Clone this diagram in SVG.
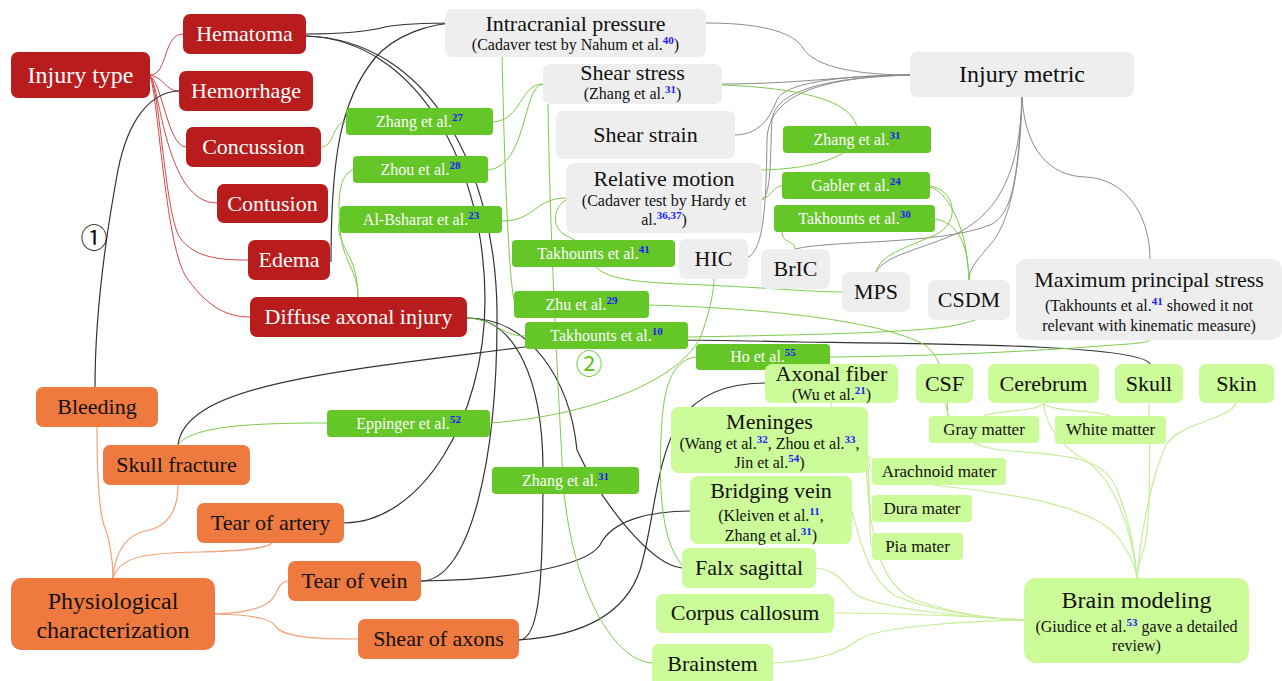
<svg xmlns="http://www.w3.org/2000/svg" width="1282" height="681" viewBox="0 0 1282 681">
<style>
text{font-family:"Liberation Serif","Times New Roman",serif;text-anchor:middle}
.red rect{fill:#B91C1C}
.red text{fill:#fff;font-size:22px}
.org rect{fill:#EF7A3F}
.org text{fill:#111;font-size:22px}
.gry rect{fill:#EEEEEE}
.gry text{fill:#111}
.cit rect{fill:#65C627}
.cit text{fill:#fff;font-size:16px}
.lg rect{fill:#CCFB99}
.lg text{fill:#111}
.big{font-size:22px}
.sub{font-size:16px}
.sm{font-size:17px}
.sup{fill:#1a1aff;font-weight:bold;font-size:11px}
#connectors path{fill:none}
.cr{stroke:#CD4848;stroke-width:1}
.ck{stroke:#333;stroke-width:1.2}
.cg{stroke:#8c8c8c;stroke-width:1}
.cn{stroke:#7DCC4A;stroke-width:1}
.cl{stroke:#C6EE98;stroke-width:1.2}
.co{stroke:#F3A27A;stroke-width:1.2}
.num{font-family:"Noto Sans CJK SC","DejaVu Sans",sans-serif;font-size:27px}
</style>
<g id="connectors">
<path class="cr" d="M150,75 C168,75 163,34 183,34"/>
<path class="cr" d="M150,75 C165,78 165,91 179,91"/>
<path class="cr" d="M150,76 C162,82 168,147 186,147"/>
<path class="cr" d="M150,76 C160,84 165,203 217,203"/>
<path class="cr" d="M150,76 C160,90 165,215 180,238 C195,258 220,260 248,260"/>
<path class="cr" d="M150,76 C158,95 165,240 185,275 C205,305 225,317 250,317"/>
<path class="co" d="M113,578 C113,555 108,535 104,525 C99,510 97,470 97,427"/>
<path class="co" d="M113,578 C115,548 130,534 145,531 C168,527 178,510 178,485"/>
<path class="co" d="M113,578 C120,555 150,553 200,552 C240,551 266,549 272,543"/>
<path class="co" d="M215,614 C255,613 270,605 275,595 C280,584 283,581 288,581"/>
<path class="co" d="M215,614 C260,615 272,620 276,627 C285,638 320,639 358,639"/>
<path class="ck" d="M179,91 C150,92 128,120 118,170 C105,240 95,320 95,387"/>
<path class="ck" d="M306,34 C340,34 370,31 385,27 C400,24 430,23 458,23"/>
<path class="ck" d="M331,262 C331,160 340,100 375,58 C395,35 430,23 458,23"/>
<path class="ck" d="M306,36 C420,40 485,170 485,300 C485,420 420,523 344,523"/>
<path class="ck" d="M306,36 C430,40 495,170 497,310 C498,460 470,581 421,581"/>
<path class="ck" d="M467,318 C515,318 543,380 543,470 C543,580 540,640 519,640"/>
<path class="ck" d="M467,318 C530,318 570,380 577,450 C600,500 650,565 682,568"/>
<path class="ck" d="M421,581 C500,580 585,568 600,545 C612,520 650,511 690,511"/>
<path class="ck" d="M519,640 C580,636 625,615 640,570 C655,520 655,460 680,420 C700,392 730,383 765,383"/>
<path class="ck" d="M178,445 C185,385 330,372 525,347 C620,337 700,340 800,342 C950,344 1140,345 1150,364"/>
<path class="cg" d="M706,23 C770,23 795,35 803,48 C815,68 860,75 912,75"/>
<path class="cg" d="M722,84 C800,84 850,75 912,75"/>
<path class="cg" d="M734,135 C765,135 772,110 778,98 C790,80 860,75 912,75"/>
<path class="cg" d="M747,258 C765,250 766,200 767,140 C768,95 820,77 912,75"/>
<path class="cg" d="M762,200 C772,195 770,150 772,120 C775,90 830,77 912,75"/>
<path class="cg" d="M1022,97 C1025,150 1050,176 1085,177 C1125,178 1150,215 1150,259"/>
<path class="cg" d="M1022,97 C1020,170 1000,210 960,232 C920,250 885,255 876,272"/>
<path class="cg" d="M1022,97 C1020,180 1008,225 990,245 C975,262 969,270 969,280"/>
<path class="cg" d="M1022,97 C1018,180 1012,215 990,225 C940,245 830,240 795,249"/>
<path class="cn" d="M321,147 C335,147 332,122 346,122"/>
<path class="cn" d="M493,122 C522,120 520,84 543,84"/>
<path class="cn" d="M488,170 C528,166 522,86 543,84"/>
<path class="cn" d="M353,170 C338,176 338,200 340,228 C342,262 358,270 358,297"/>
<path class="cn" d="M340,220 C335,232 345,248 350,258 C356,270 358,285 358,297"/>
<path class="cn" d="M502,221 C535,221 535,198 566,198"/>
<path class="cn" d="M566,200 C552,208 552,228 565,235 C580,242 590,250 593,262 C600,280 640,282 680,284 C760,287 810,292 842,292"/>
<path class="cn" d="M502,52 C504,150 508,270 514,300"/>
<path class="cn" d="M649,305 C760,308 880,320 925,345 C945,360 946,390 948,416"/>
<path class="cn" d="M688,337 C800,335 900,333 945,327 C960,325 968,322 975,320"/>
<path class="cn" d="M467,318 C498,320 500,336 525,336"/>
<path class="cn" d="M178,445 C192,426 250,423 327,423"/>
<path class="cn" d="M490,423 C600,415 690,375 703,330 C710,310 714,290 714,279"/>
<path class="cn" d="M722,85 C800,88 852,100 857,128 C862,160 800,170 757,170"/>
<path class="cn" d="M762,198 C772,198 772,186 782,186"/>
<path class="cn" d="M930,186 C955,190 962,222 935,235 C905,248 880,255 876,272"/>
<path class="cn" d="M930,187 C948,192 962,225 966,250 C968,265 969,272 969,280"/>
<path class="cn" d="M935,219 C955,222 964,240 967,258 C968,268 969,275 969,280"/>
<path class="cn" d="M782,232 C782,244 795,240 795,249"/>
<path class="cn" d="M830,357 C950,356 1050,350 1100,346 C1130,344 1148,343 1150,340"/>
<path class="cn" d="M696,357 C675,360 665,380 662,420 C658,480 660,540 682,565"/>
<path class="cn" d="M548,104 C550,250 560,420 563,480 C570,580 610,660 652,663"/>
<path class="cl" d="M1236,403 C1230,420 1180,422 1166,445 C1150,480 1140,540 1137,578"/>
<path class="cl" d="M1149,403 C1150,450 1150,520 1145,545 C1140,560 1137,570 1137,578"/>
<path class="cl" d="M1043,403 C1040,412 995,410 984,416"/>
<path class="cl" d="M1043,403 C1048,412 1100,410 1110,416"/>
<path class="cl" d="M1043,403 C1048,430 1060,445 1085,460 C1115,480 1132,530 1137,578"/>
<path class="cl" d="M945,403 C950,430 965,445 1000,450 C1060,455 1100,455 1115,485 C1130,520 1135,550 1137,578"/>
<path class="cl" d="M831,403 C840,450 900,480 940,486 C1030,495 1100,510 1120,540 C1130,555 1136,568 1137,578"/>
<path class="cl" d="M866,455 C871,458 868,471 872,471"/>
<path class="cl" d="M866,460 C872,470 866,508 872,508"/>
<path class="cl" d="M866,460 C872,480 868,547 872,547"/>
<path class="cl" d="M866,465 C870,540 880,585 915,600 C955,614 1000,620 1024,620"/>
<path class="cl" d="M852,511 C860,540 868,578 895,596 C935,612 990,619 1024,620"/>
<path class="cl" d="M816,568 C838,570 845,585 855,594 C880,610 980,618 1024,620"/>
<path class="cl" d="M834,613 C900,613 980,617 1024,620"/>
<path class="cl" d="M773,663 C830,660 848,648 858,640 C880,625 980,621 1024,620"/>
</g>
<g id="injury-type" class="red"><rect x="11" y="52" width="139" height="46" rx="7"/><text x="80.5" y="83" style="font-size:24px">Injury type</text></g>
<g id="hematoma" class="red"><rect x="183" y="14" width="123" height="40" rx="7"/><text x="244.5" y="41">Hematoma</text></g>
<g id="hemorrhage" class="red"><rect x="179" y="71" width="134" height="40" rx="7"/><text x="246" y="98">Hemorrhage</text></g>
<g id="concussion" class="red"><rect x="186" y="127" width="135" height="40" rx="7"/><text x="253.5" y="154">Concussion</text></g>
<g id="contusion" class="red"><rect x="217" y="184" width="111" height="39" rx="7"/><text x="272.5" y="211">Contusion</text></g>
<g id="edema" class="red"><rect x="248" y="240" width="82" height="40" rx="7"/><text x="289" y="267">Edema</text></g>
<g id="dai" class="red"><rect x="250" y="297" width="217" height="40" rx="7"/><text x="358.5" y="324">Diffuse axonal injury</text></g>
<g id="bleeding" class="org"><rect x="36" y="387" width="122" height="40" rx="7"/><text x="97" y="414">Bleeding</text></g>
<g id="skull-fracture" class="org"><rect x="103" y="445" width="147" height="40" rx="7"/><text x="176.5" y="472">Skull fracture</text></g>
<g id="tear-artery" class="org"><rect x="197" y="503" width="147" height="40" rx="7"/><text x="270.5" y="530">Tear of artery</text></g>
<g id="tear-vein" class="org"><rect x="288" y="561" width="133" height="40" rx="7"/><text x="354.5" y="588">Tear of vein</text></g>
<g id="shear-axons" class="org"><rect x="358" y="619" width="161" height="40" rx="7"/><text x="438.5" y="646">Shear of axons</text></g>
<g id="physio" class="org"><rect x="11" y="578" width="204" height="72" rx="10"/><text x="113" y="609" style="font-size:24px">Physiological</text><text x="113" y="638" style="font-size:24px">characterization</text></g>
<g id="icp" class="gry"><rect x="445" y="9" width="261" height="48" rx="7"/><text x="575.5" y="31" class="big">Intracranial pressure</text><text x="575.5" y="50" class="sub">(Cadaver test by Nahum et al.<tspan class="sup" dy="-6">40</tspan><tspan dy="6">)</tspan></text></g>
<g id="shear-stress" class="gry"><rect x="543" y="64" width="179" height="40" rx="7"/><text x="632.5" y="80" class="big">Shear stress</text><text x="632.5" y="99" class="sub">(Zhang et al.<tspan class="sup" dy="-6">31</tspan><tspan dy="6">)</tspan></text></g>
<g id="shear-strain" class="gry"><rect x="556" y="111" width="179" height="48" rx="7"/><text x="645.5" y="142" class="big">Shear strain</text></g>
<g id="relative-motion" class="gry"><rect x="566" y="163" width="196" height="70" rx="8"/><text x="664" y="186" class="big">Relative motion</text><text x="664" y="206" class="sub">(Cadaver test by Hardy et</text><text x="664" y="225" class="sub">al.<tspan class="sup" dy="-6">36,37</tspan><tspan dy="6">)</tspan></text></g>
<g id="injury-metric" class="gry"><rect x="910" y="52" width="224" height="45" rx="7"/><text x="1022" y="82" style="font-size:24px">Injury metric</text></g>
<g id="hic" class="gry"><rect x="679" y="239" width="69" height="40" rx="7"/><text x="713.5" y="266" class="big">HIC</text></g>
<g id="bric" class="gry"><rect x="761" y="249" width="69" height="40" rx="7"/><text x="795.5" y="276" class="big">BrIC</text></g>
<g id="mps" class="gry"><rect x="842" y="272" width="68" height="40" rx="7"/><text x="876" y="299" class="big">MPS</text></g>
<g id="csdm" class="gry"><rect x="928" y="280" width="82" height="40" rx="7"/><text x="969" y="307" class="big">CSDM</text></g>
<g id="max-principal" class="gry"><rect x="1016" y="259" width="266" height="81" rx="10"/><text x="1149" y="287" class="big">Maximum principal stress</text><text x="1149" y="311" class="sub">(Takhounts et al.<tspan class="sup" dy="-6">41</tspan><tspan dy="6"> showed it not</tspan></text><text x="1149" y="331" class="sub">relevant with kinematic measure)</text></g>
<g id="zhang27" class="cit"><rect x="346" y="108" width="147" height="27" rx="4"/><text x="419.5" y="127">Zhang et al.<tspan class="sup" dy="-6">27</tspan></text></g>
<g id="zhou28" class="cit"><rect x="353" y="156" width="135" height="27" rx="4"/><text x="420.5" y="175">Zhou et al.<tspan class="sup" dy="-6">28</tspan></text></g>
<g id="albsharat23" class="cit"><rect x="340" y="206" width="162" height="27" rx="4"/><text x="421" y="225">Al-Bsharat et al.<tspan class="sup" dy="-6">23</tspan></text></g>
<g id="takhounts41" class="cit"><rect x="512" y="240" width="163" height="27" rx="4"/><text x="593.5" y="259">Takhounts et al.<tspan class="sup" dy="-6">41</tspan></text></g>
<g id="zhu29" class="cit"><rect x="514" y="291" width="135" height="27" rx="4"/><text x="581.5" y="310">Zhu et al.<tspan class="sup" dy="-6">29</tspan></text></g>
<g id="takhounts10" class="cit"><rect x="525" y="322" width="163" height="27" rx="4"/><text x="606.5" y="341">Takhounts et al.<tspan class="sup" dy="-6">10</tspan></text></g>
<g id="eppinger52" class="cit"><rect x="327" y="410" width="163" height="27" rx="4"/><text x="408.5" y="429">Eppinger et al.<tspan class="sup" dy="-6">52</tspan></text></g>
<g id="zhang31b" class="cit"><rect x="492" y="467" width="147" height="27" rx="4"/><text x="565.5" y="486">Zhang et al.<tspan class="sup" dy="-6">31</tspan></text></g>
<g id="zhang31a" class="cit"><rect x="783" y="126" width="148" height="27" rx="4"/><text x="857" y="145">Zhang et al.<tspan class="sup" dy="-6">31</tspan></text></g>
<g id="gabler24" class="cit"><rect x="782" y="172" width="148" height="27" rx="4"/><text x="856" y="191">Gabler et al.<tspan class="sup" dy="-6">24</tspan></text></g>
<g id="takhounts30" class="cit"><rect x="774" y="205" width="161" height="27" rx="4"/><text x="854.5" y="224">Takhounts et al.<tspan class="sup" dy="-6">30</tspan></text></g>
<g id="ho55" class="cit"><rect x="696" y="344" width="134" height="26" rx="4"/><text x="763" y="362">Ho et al.<tspan class="sup" dy="-6">55</tspan></text></g>
<g id="axonal-fiber" class="lg"><rect x="765" y="364" width="133" height="39" rx="7"/><text x="831.5" y="381" class="big">Axonal fiber</text><text x="831.5" y="400" class="sub">(Wu et al.<tspan class="sup" dy="-6">21</tspan><tspan dy="6">)</tspan></text></g>
<g id="csf" class="lg"><rect x="916" y="364" width="57" height="39" rx="7"/><text x="944.5" y="391" class="big">CSF</text></g>
<g id="cerebrum" class="lg"><rect x="988" y="364" width="111" height="39" rx="7"/><text x="1043.5" y="391" class="big">Cerebrum</text></g>
<g id="skull" class="lg"><rect x="1115" y="364" width="68" height="39" rx="7"/><text x="1149" y="391" class="big">Skull</text></g>
<g id="skin" class="lg"><rect x="1199" y="364" width="75" height="39" rx="7"/><text x="1236.5" y="391" class="big">Skin</text></g>
<g id="gray-matter" class="lg"><rect x="929" y="416" width="110" height="27" rx="4"/><text x="984" y="435" class="sm">Gray matter</text></g>
<g id="white-matter" class="lg"><rect x="1055" y="416" width="111" height="28" rx="4"/><text x="1110.5" y="435" class="sm">White matter</text></g>
<g id="meninges" class="lg"><rect x="671" y="407" width="197" height="66" rx="8"/><text x="769.5" y="429" class="big">Meninges</text><text x="769.5" y="449" class="sub">(Wang et al.<tspan class="sup" dy="-6">32</tspan><tspan dy="6">, Zhou et al.</tspan><tspan class="sup" dy="-6">33</tspan><tspan dy="6">,</tspan></text><text x="769.5" y="468" class="sub">Jin et al.<tspan class="sup" dy="-6">54</tspan><tspan dy="6">)</tspan></text></g>
<g id="arachnoid" class="lg"><rect x="872" y="458" width="134" height="27" rx="4"/><text x="939" y="477" class="sm">Arachnoid mater</text></g>
<g id="dura" class="lg"><rect x="872" y="495" width="100" height="27" rx="4"/><text x="922" y="514" class="sm">Dura mater</text></g>
<g id="pia" class="lg"><rect x="872" y="533" width="91" height="27" rx="4"/><text x="917.5" y="552" class="sm">Pia mater</text></g>
<g id="bridging-vein" class="lg"><rect x="690" y="476" width="162" height="68" rx="8"/><text x="771" y="498" class="big">Bridging vein</text><text x="771" y="521" class="sub">(Kleiven et al.<tspan class="sup" dy="-6">11</tspan><tspan dy="6">,</tspan></text><text x="771" y="541" class="sub">Zhang et al.<tspan class="sup" dy="-6">31</tspan><tspan dy="6">)</tspan></text></g>
<g id="falx" class="lg"><rect x="682" y="548" width="134" height="40" rx="7"/><text x="749" y="575" class="big">Falx sagittal</text></g>
<g id="corpus-callosum" class="lg"><rect x="656" y="594" width="178" height="39" rx="7"/><text x="745" y="620" class="big">Corpus callosum</text></g>
<g id="brainstem" class="lg"><rect x="652" y="644" width="121" height="42" rx="7"/><text x="712.5" y="671" class="big">Brainstem</text></g>
<g id="brain-modeling" class="lg"><rect x="1024" y="578" width="225" height="85" rx="12"/><text x="1136.5" y="608" style="font-size:24px">Brain modeling</text><text x="1136.5" y="632" class="sub">(Giudice et al.<tspan class="sup" dy="-6">53</tspan><tspan dy="6"> gave a detailed</tspan></text><text x="1136.5" y="651" class="sub">review)</text></g>
<text class="num" x="94" y="248" fill="#111">①</text>
<text class="num" x="589" y="374" fill="#65C627">②</text>
</svg>
